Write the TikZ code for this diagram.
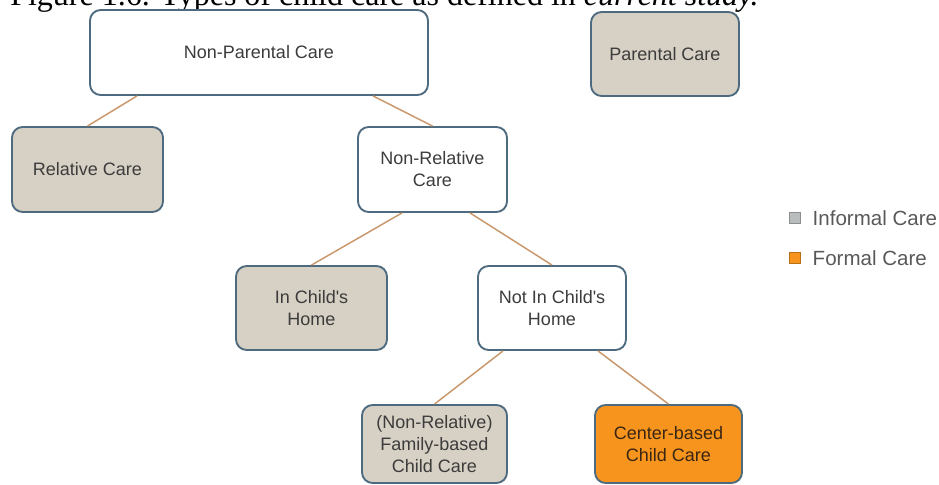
\documentclass[tikz,border=0pt]{standalone}
\usepackage{fontspec}
\setmainfont{Liberation Serif}
\newfontfamily\boxfont{Liberation Sans}
\usetikzlibrary{calc}
\definecolor{boxedge}{HTML}{4E6A7E}
\definecolor{tanfill}{HTML}{D7D0C4}
\definecolor{careorange}{HTML}{F7941D}
\definecolor{linkbrown}{HTML}{C9976B}
\definecolor{boxtext}{HTML}{3C3C3C}
\definecolor{greysq}{HTML}{B9BDBD}

\begin{document}
\begin{tikzpicture}[x=0.75pt,y=-0.75pt,
	box/.style={draw=boxedge, line width=1.4pt, rounded corners=8pt, fill=white, text=boxtext, align=center,
		minimum width=111pt, minimum height=63pt, inner sep=2pt, font=\boxfont\fontsize{13.5}{16.5}\selectfont},
	informal/.style={box, fill=tanfill},
	formal/.style={box, fill=careorange, text=black!70!brown},
	link/.style={draw=linkbrown, line width=1.1pt},
	legendsq/.style={draw=#1!75!black, fill=#1, minimum size=8pt, inner sep=0pt},
	legendtext/.style={anchor=west, text=black!65, font=\boxfont\fontsize{15.4}{18}\selectfont}]
			\useasboundingbox (0,0) rectangle (939,485);
			
			%caption, cut at the top
			\node (caption) at (10,6) [anchor=base west, inner sep=0pt, font=\fontsize{24}{28}\selectfont]{Figure 1.6. Types of child care as defined in \textit{current study.}};
			
			%first row
			\node (npc) at (259, 52.5) [box, minimum width=253.5pt, minimum height=63.75pt]{Non-Parental Care};
			\node (pc) at (665, 54) [informal]{Parental Care};
			
			%second row
			\node (rc) at (87.5, 169.5) [informal, minimum width=113.25pt, minimum height=63.75pt]{Relative Care};
			\node (nrc) at (432.5, 169.5) [box, minimum width=111.75pt, minimum height=63.75pt]{Non-Relative\\Care};
			
			%third row
			\node (ich) at (311.5, 308) [informal, minimum width=113.25pt]{In Child's\\Home};
			\node (nich) at (552, 308) [box]{Not In Child's\\Home};
			
			%fourth row
			\node (fcc) at (434.5, 444) [informal, minimum width=108.75pt, minimum height=58.5pt]{(Non-Relative)\\Family-based\\Child Care};
			\node (cbc) at (668.5, 444) [formal, minimum width=110.25pt, minimum height=58.5pt]{Center-based\\Child Care};
			
			%links
			\draw[link] ($(npc.south)+(-122,0)$) -- (rc.north);
			\draw[link] ($(npc.south)+(114,0)$) -- (nrc.north);
			\draw[link] ($(nrc.south)+(-30.5,0)$) -- (ich.north);
			\draw[link] ($(nrc.south)+(37.5,0)$) -- (nich.north);
			\draw[link] ($(nich.south)+(-49,0)$) -- (fcc.north);
			\draw[link] ($(nich.south)+(46,0)$) -- (cbc.north);
			
			%legend
			\node (infsq) at (795, 218) [legendsq=greysq]{};
			\node (inftext) at (808, 218) [legendtext]{Informal Care};
			\node (forsq) at (795, 258) [legendsq=careorange]{};
			\node (fortext) at (808, 258) [legendtext]{Formal Care};
\end{tikzpicture}
\end{document}
